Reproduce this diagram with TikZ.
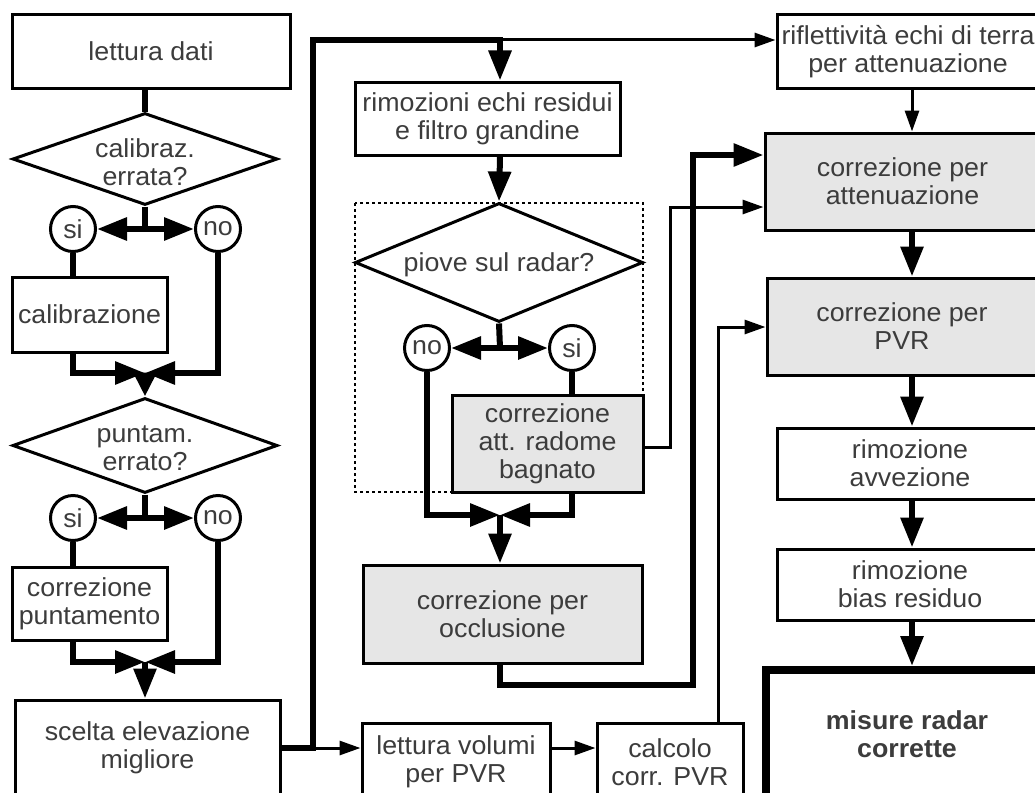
\documentclass[tikz,border=0pt]{standalone}
\usepackage{fontspec}
\setmainfont[FakeStretch=1.03]{Liberation Sans}
\usetikzlibrary{arrows.meta,shapes.geometric}
\definecolor{txt}{RGB}{60,60,60}
\definecolor{boxgray}{RGB}{230,230,230}
\begin{document}
\begin{tikzpicture}[x=1pt,y=-1pt,
  lbl/.style={font=\fontsize{26}{28}\selectfont, text=txt, align=center, inner sep=0pt},
  box/.style={lbl, draw, line width=3pt, rectangle},
  gbox/.style={box, fill=boxgray},
  dia/.style={draw, diamond, line width=3pt, inner sep=0pt},
  circ/.style={lbl, draw, circle, line width=3pt, minimum size=45pt},
  thk/.style={line width=6pt, line join=miter},
  thn/.style={line width=3pt, line join=miter},
  bigarr/.style={-{Triangle[length=30pt,width=22pt]}},
  shortarr/.style={-{Triangle[length=24pt,width=22pt]}},
  smarr/.style={-{Triangle[length=21pt,width=14pt]}},
]
\clip (0,0) rectangle (1035,792);
\fill[white] (0,0) rectangle (1035,792);

% dotted group frame
\draw[line width=1.5pt, dash pattern=on 3pt off 3pt] (355,203) rectangle (643,492);

% ---------- left column
\node[box, minimum width=278pt, minimum height=73pt] (n1) at (151,51.5) {lettura dati};
\node[dia, minimum width=265pt, minimum height=92pt] (d1) at (145,159) {};
\node[lbl] (d1t) at (145,162) {calibraz.\\errata?};
\node[circ] (si1) at (73,229) {si};
\node[circ] (no1) at (218,229) {no};
\node[box, minimum width=155pt, minimum height=75pt] (c1) at (89.5,314.5) {calibrazione};
\node[dia, minimum width=265pt, minimum height=95pt] (d2) at (145,445.5) {};
\node[lbl] (d2t) at (145,448) {puntam.\\errato?};
\node[circ] (si2) at (73,518) {si};
\node[circ] (no2) at (218,518) {no};
\node[box, minimum width=155pt, minimum height=73pt] (c2) at (89.5,603.5) {correzione\\puntamento};
\node[box, minimum width=265pt, minimum height=96pt] (sc) at (147.5,748) {scelta elevazione\\migliore};

\coordinate (j1) at (145,229);
\coordinate (m1) at (145,373);
\coordinate (j2) at (145,518);
\coordinate (m2) at (145,662);

\draw[thk] (n1.south -| d1) -- (d1.north);
\draw[thk] (d1.south) -- (j1);
\draw[thk,bigarr] (j1) -- (si1.east);
\draw[thk,bigarr] (j1) -- (no1.west);
\draw[thk] (si1.south) -- (si1 |- c1.north);
\draw[thk,bigarr] (si1 |- c1.south) -- (si1 |- m1) -- (m1);
\draw[thk,bigarr] (no1.south) -- (no1 |- m1) -- (m1);
\draw[thk,shortarr] (m1) -- (d2.north);

\draw[thk] (d2.south) -- (j2);
\draw[thk,bigarr] (j2) -- (si2.east);
\draw[thk,bigarr] (j2) -- (no2.west);
\draw[thk] (si2.south) -- (si2 |- c2.north);
\draw[thk,bigarr] (si2 |- c2.south) -- (si2 |- m2) -- (m2);
\draw[thk,bigarr] (no2.south) -- (no2 |- m2) -- (m2);
\draw[thk,bigarr] (m2) -- (sc.north -| m2);

% ---------- middle column
\node[box, minimum width=265pt, minimum height=73pt] (rim) at (487.5,118.5) {rimozioni echi residui\\e filtro grandine};
\node[dia, minimum width=288pt, minimum height=119pt] (d3) at (499,262.5) {};
\node[lbl] (d3t) at (499,265) {piove sul radar?};
\node[circ] (no3) at (427,348) {no};
\node[circ] (si3) at (572,348) {si};
\node[gbox, minimum width=191pt, minimum height=97pt] (rad) at (547.5,443.5) {correzione\\att. radome\\bagnato};
\node[gbox, minimum width=279pt, minimum height=98pt] (occ) at (502.5,614) {correzione per\\occlusione};
\node[box, minimum width=188pt, minimum height=78pt] (lvol) at (456,762) {lettura volumi\\per PVR};
\node[box, minimum width=146pt, minimum height=78pt] (calc) at (670,762) {calcolo\\corr. PVR};

% ---------- right column
\node[box, minimum width=262pt, minimum height=73pt] (rifl) at (908,51.5) {riflettività echi di terra\\per attenuazione};
\node[gbox, minimum width=275pt, minimum height=97pt] (att) at (902.5,181.5) {correzione per\\attenuazione};
\node[gbox, minimum width=270pt, minimum height=97pt] (pvr) at (902,326.5) {correzione per\\PVR};
\node[box, minimum width=266pt, minimum height=71pt] (avv) at (910,463.5) {rimozione\\avvezione};
\node[box, minimum width=266pt, minimum height=71pt] (bias) at (910,584.5) {rimozione\\bias residuo};
\node[lbl, draw, line width=8pt, minimum width=282pt, minimum height=128pt, font=\fontsize{26}{28}\selectfont\bfseries] (mis) at (907,734) {misure radar\\corrette};

% ---------- connectors
\coordinate (t0) at (313,748);
\coordinate (t1) at (313,40);
\coordinate (t2) at (500,40);
\coordinate (j3) at (500,348);
\coordinate (m3) at (500,515);
\coordinate (k1) at (500,685);
\coordinate (k2) at (693,685);
\coordinate (k3) at (693,155);
\coordinate (r1) at (670,447);
\coordinate (r2) at (670,207);
\coordinate (p1) at (718,327);
\coordinate (v) at (912,0);

\draw[thk,bigarr] (sc.east |- t0) -- (t0) -- (t1) -- (t2) -- (rim.north -| t2);
\draw[thn,smarr] (t2) -- (rifl.west |- t2);
\draw[thn,smarr] (t0) -- (lvol.west |- t0);
\draw[thn,smarr] (lvol.east |- t0) -- (calc.west |- t0);

\draw[thk,bigarr] (rim.south -| t2) -- (d3.north);
\draw[thk] (d3.south) -- (j3);
\draw[thk,bigarr] (j3) -- (no3.east);
\draw[thk,bigarr] (j3) -- (si3.west);
\draw[thk] (si3.south) -- (si3 |- rad.north);
\draw[thk,bigarr] (no3.south) -- (no3 |- m3) -- (m3);
\draw[thk,bigarr] (si3 |- rad.south) -- (si3 |- m3) -- (m3);
\draw[thk,bigarr] (m3) -- (occ.north -| m3);

\draw[thk,bigarr] (occ.south -| k1) -- (k1) -- (k2) -- (k3) -- (att.west |- k3);
\draw[thn,smarr] (rad.east |- r1) -- (r1) -- (r2) -- (att.west |- r2);
\draw[thn,smarr] (calc.north -| p1) -- (p1) -- (pvr.west |- p1);

\draw[thn,smarr] (rifl.south -| v) -- (att.north -| v);
\draw[thk,bigarr] (att.south -| v) -- (pvr.north -| v);
\draw[thk,bigarr] (pvr.south -| v) -- (avv.north -| v);
\draw[thk,bigarr] (avv.south -| v) -- (bias.north -| v);
\draw[thk,bigarr] (bias.south -| v) -- (mis.north -| v);
\end{tikzpicture}
\end{document}
